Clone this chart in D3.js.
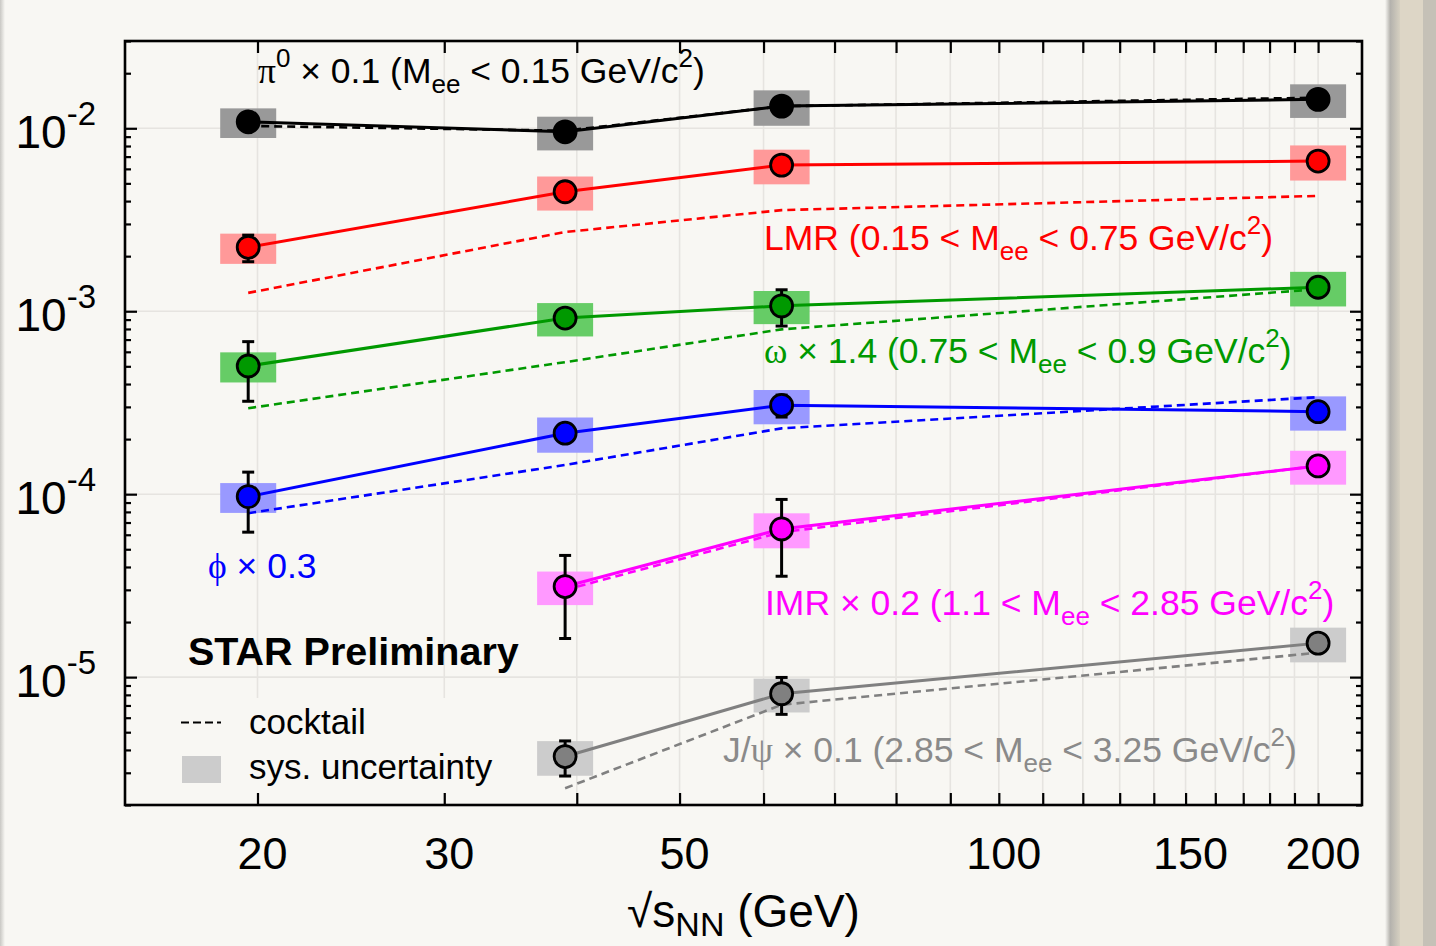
<!DOCTYPE html>
<html>
<head>
<meta charset="utf-8">
<script src="https://cdn.jsdelivr.net/npm/d3@7/dist/d3.min.js"></script>
<style>
  html, body { margin: 0; padding: 0; background: #f8f7f3; }
  svg { display: block; }
</style>
</head>
<body>
<svg id="chart" width="1436" height="946"></svg>
<script>
// ---- Data: dielectron yields vs collision energy ----
const energiesAll = [19.6, 39, 62.4, 200];
const energiesHigh = [39, 62.4, 200];

// pi0 x 0.1 (Mee < 0.15 GeV/c2)
const pi0Yield    = [0.01085, 0.00957, 0.01322, 0.01439];
const pi0Stat     = [0.0003, 0.0003, 0.0003, 0.0003];
const pi0Sys      = [0.0020, 0.0020, 0.0029, 0.0030];
const pi0Cocktail = [0.0103, 0.0097, 0.0132, 0.0147];

// LMR (0.15 < Mee < 0.75 GeV/c2)
const lmrYield    = [0.002235, 0.0045, 0.00629, 0.00662];
const lmrStat     = [0.00037, 0.0002, 0.0002, 0.0002];
const lmrSys      = [0.00042, 0.00095, 0.00135, 0.00144];
const lmrCocktail = [0.00126, 0.00271, 0.00357, 0.00427];

// omega x 1.4 (0.75 < Mee < 0.9 GeV/c2)
const omegaYield    = [0.000502, 0.000918, 0.00107, 0.001352];
const omegaStat     = [0.00018, 0.00008, 0.00024, 0.00005];
const omegaSys      = [0.000094, 0.00019, 0.00022, 0.00029];
const omegaCocktail = [0.000295, 0.000527, 0.000796, 0.00132];

// phi x 0.3
const phiYield    = [9.7e-5, 2.155e-4, 3.06e-4, 2.825e-4];
const phiStat     = [3.5e-5, 1.5e-5, 4.2e-5, 1.5e-5];
const phiSys      = [1.8e-5, 4.7e-5, 6.5e-5, 6.0e-5];
const phiCocktail = [7.87e-5, 1.445e-4, 2.29e-4, 3.39e-4];

// IMR x 0.2 (1.1 < Mee < 2.85 GeV/c2)
const imrYield    = [3.126e-5, 6.46e-5, 1.427e-4];
const imrStat     = [1.5e-5, 2.9e-5, 5e-6];
const imrSys      = [6.5e-6, 1.4e-5, 3.0e-5];
const imrCocktail = [3.0e-5, 6.2e-5, 1.43e-4];

// J/psi x 0.1 (2.85 < Mee < 3.25 GeV/c2)
const jpsiYield    = [3.68e-6, 8.11e-6, 1.534e-5];
const jpsiStat     = [8e-7, 1.85e-6, 5e-7];
const jpsiSys      = [7.9e-7, 1.7e-6, 3.3e-6];
const jpsiCocktail = [2.47e-6, 7.06e-6, 1.36e-5];

// Axis ticks
const xDomain = [15, 220];
const yDomain = [2e-6, 0.03];
const xTickValues = d3.range(20, 201, 10);
const xTickLabels = [20, 30, 50, 100, 150, 200];
const yDecades = [1e-2, 1e-3, 1e-4, 1e-5];
const yDecadeExponents = ["-2", "-3", "-4", "-5"];

// ---- Layout ----
const W = 1436, H = 946;
const frame = { left: 125, top: 41, right: 1362, bottom: 805 };
const FONT = "'Liberation Sans', Arial, Helvetica, sans-serif";
const GREEK = "'Liberation Serif', 'DejaVu Serif', serif";

const svg = d3.select("#chart");

const x = d3.scaleLog().domain(xDomain).range([frame.left, frame.right]);
const y = d3.scaleLog().domain(yDomain).range([frame.bottom, frame.top]);

// Page background with side bars
svg.append("rect").attr("width", W).attr("height", H).attr("fill", "#f8f7f3");
const defs = svg.append("defs");
const gl = defs.append("linearGradient").attr("id", "leftShade").attr("x1", 0).attr("x2", 1);
gl.append("stop").attr("offset", 0).attr("stop-color", "#c9c8c4");
gl.append("stop").attr("offset", 1).attr("stop-color", "#f8f7f3");
svg.append("rect").attr("x", 0).attr("y", 0).attr("width", 5).attr("height", H).attr("fill", "url(#leftShade)");
const gr = defs.append("linearGradient").attr("id", "rightShade").attr("x1", 0).attr("x2", 1);
gr.append("stop").attr("offset", 0).attr("stop-color", "#f8f7f3");
gr.append("stop").attr("offset", 0.35).attr("stop-color", "#b4b2ad");
gr.append("stop").attr("offset", 1).attr("stop-color", "#d6d0c1");
svg.append("rect").attr("x", 1385).attr("y", 0).attr("width", 15).attr("height", H).attr("fill", "url(#rightShade)");
svg.append("rect").attr("x", 1400).attr("y", 0).attr("width", 23).attr("height", H).attr("fill", "#ddd6c6");
svg.append("rect").attr("x", 1423).attr("y", 0).attr("width", 13).attr("height", H).attr("fill", "#c5c1b7");

// Grid
const grid = svg.append("g").attr("stroke", "#e6e4e0").attr("stroke-width", 1.6);
grid.selectAll("line.vx").data(xTickValues).join("line")
  .attr("x1", d => x(d)).attr("x2", d => x(d))
  .attr("y1", frame.top).attr("y2", frame.bottom);
grid.selectAll("line.hy").data(yDecades).join("line")
  .attr("x1", frame.left).attr("x2", frame.right)
  .attr("y1", d => y(d)).attr("y2", d => y(d));

// Legend backdrop hides the grid behind it
svg.append("rect").attr("x", 150).attr("y", 698).attr("width", 380).attr("height", 95)
  .attr("fill", "#f8f7f3");

// ---- Series ----
const series = [
  { xs: energiesAll,  yv: pi0Yield,   st: pi0Stat,   sy: pi0Sys,   ck: pi0Cocktail,
    line: "#000000", marker: "#000000", box: "#999999" },
  { xs: energiesAll,  yv: lmrYield,   st: lmrStat,   sy: lmrSys,   ck: lmrCocktail,
    line: "#ff0000", marker: "#ff0000", box: "#ff9999" },
  { xs: energiesAll,  yv: omegaYield, st: omegaStat, sy: omegaSys, ck: omegaCocktail,
    line: "#009900", marker: "#009900", box: "#66cc66" },
  { xs: energiesAll,  yv: phiYield,   st: phiStat,   sy: phiSys,   ck: phiCocktail,
    line: "#0000ff", marker: "#0000ff", box: "#9999ff" },
  { xs: energiesHigh, yv: imrYield,   st: imrStat,   sy: imrSys,   ck: imrCocktail,
    line: "#ff00ff", marker: "#ff00ff", box: "#ff99ff" },
  { xs: energiesHigh, yv: jpsiYield,  st: jpsiStat,  sy: jpsiSys,  ck: jpsiCocktail,
    line: "#808080", marker: "#808080", box: "#cccccc" }
];

const boxHalf = 28;
const lineGen = d3.line().x(d => x(d[0])).y(d => y(d[1]));

// systematic boxes
const gBox = svg.append("g");
series.forEach(s => {
  gBox.selectAll(null).data(s.xs.map((e, i) => [e, s.yv[i], s.sy[i]])).join("rect")
    .attr("x", d => x(d[0]) - boxHalf)
    .attr("width", boxHalf * 2)
    .attr("y", d => y(d[1] + d[2]))
    .attr("height", d => y(d[1] - d[2]) - y(d[1] + d[2]))
    .attr("fill", s.box);
});

// cocktail curves
const gCk = svg.append("g").attr("fill", "none");
series.forEach(s => {
  gCk.append("path")
    .attr("d", lineGen(s.xs.map((e, i) => [e, s.ck[i]])))
    .attr("stroke", s.line).attr("stroke-width", 2.6)
    .attr("stroke-dasharray", "8,5");
});

// data lines
const gLn = svg.append("g").attr("fill", "none");
series.forEach(s => {
  gLn.append("path")
    .attr("d", lineGen(s.xs.map((e, i) => [e, s.yv[i]])))
    .attr("stroke", s.line).attr("stroke-width", 3);
});

// statistical error bars
const gErr = svg.append("g").attr("stroke", "#000").attr("stroke-width", 3);
series.forEach(s => {
  s.xs.forEach((e, i) => {
    const cx = x(e), yt = y(s.yv[i] + s.st[i]), yb = y(s.yv[i] - s.st[i]);
    gErr.append("line").attr("x1", cx).attr("x2", cx).attr("y1", yt).attr("y2", yb);
    gErr.append("line").attr("x1", cx - 6).attr("x2", cx + 6).attr("y1", yt).attr("y2", yt);
    gErr.append("line").attr("x1", cx - 6).attr("x2", cx + 6).attr("y1", yb).attr("y2", yb);
  });
});

// markers
const gMk = svg.append("g");
series.forEach(s => {
  gMk.selectAll(null).data(s.xs.map((e, i) => [e, s.yv[i]])).join("circle")
    .attr("cx", d => x(d[0])).attr("cy", d => y(d[1]))
    .attr("r", 11).attr("fill", s.marker)
    .attr("stroke", "#000").attr("stroke-width", 2.8);
});

// ---- Axes (inward ticks on all four sides) ----
const yMinor = [];
for (let k = -6; k <= -2; k++) {
  for (let m = 2; m <= 9; m++) {
    const v = m * Math.pow(10, k);
    if (v >= yDomain[0] * 0.999 && v <= yDomain[1] * 1.001) yMinor.push(v);
  }
}
function styleAxis(g) {
  g.select(".domain").remove();
  g.selectAll(".tick line").attr("stroke", "#000").attr("stroke-width", 2.2);
  g.selectAll(".tick text").remove();
}
svg.append("g").attr("transform", `translate(0,${frame.bottom})`)
  .call(d3.axisTop(x).tickValues(xTickValues).tickSize(12).tickFormat("")).call(styleAxis);
svg.append("g").attr("transform", `translate(0,${frame.top})`)
  .call(d3.axisBottom(x).tickValues(xTickValues).tickSize(12).tickFormat("")).call(styleAxis);
svg.append("g").attr("transform", `translate(${frame.left},0)`)
  .call(d3.axisRight(y).tickValues(yDecades).tickSize(12).tickFormat("")).call(styleAxis);
svg.append("g").attr("transform", `translate(${frame.left},0)`)
  .call(d3.axisRight(y).tickValues(yMinor).tickSize(6).tickFormat("")).call(styleAxis);
svg.append("g").attr("transform", `translate(${frame.right},0)`)
  .call(d3.axisLeft(y).tickValues(yDecades).tickSize(12).tickFormat("")).call(styleAxis);
svg.append("g").attr("transform", `translate(${frame.right},0)`)
  .call(d3.axisLeft(y).tickValues(yMinor).tickSize(6).tickFormat("")).call(styleAxis);

// frame
svg.append("rect")
  .attr("x", frame.left).attr("y", frame.top)
  .attr("width", frame.right - frame.left).attr("height", frame.bottom - frame.top)
  .attr("fill", "none").attr("stroke", "#000").attr("stroke-width", 2.6);

// x tick labels
svg.append("g").selectAll("text").data(xTickLabels).join("text")
  .attr("x", d => x(d) + 5).attr("y", 869)
  .attr("text-anchor", "middle")
  .attr("font-family", FONT).attr("font-size", 45).attr("fill", "#000")
  .text(d => d);

// y tick labels: 10^n
const yl = svg.append("g");
yDecades.forEach((v, i) => {
  const t = yl.append("text")
    .attr("x", 96).attr("y", y(v) + 20)
    .attr("text-anchor", "end")
    .attr("font-family", FONT).attr("font-size", 46).attr("fill", "#000");
  t.append("tspan").text("10");
  t.append("tspan").attr("dy", -23).attr("font-size", 33).text(yDecadeExponents[i]);
});

// ---- Rich text helper for sub/superscripts ----
function richText(px, py, parts, color, size, subSize) {
  const t = svg.append("text")
    .attr("x", px).attr("y", py)
    .attr("font-family", FONT).attr("font-size", size).attr("fill", color);
  let offset = 0;
  parts.forEach(([str, kind]) => {
    const target = kind === "sub" ? 10 : kind === "sup" ? -16 : 0;
    const ts = t.append("tspan").attr("dy", target - offset).text(str);
    offset = target;
    if (kind === "sub" || kind === "sup") ts.attr("font-size", subSize);
    if (kind === "greek") ts.attr("font-family", GREEK);
  });
  return t;
}

const ANN = 35.5, ANN_SUB = 26;
richText(258, 83, [["π", "greek"], ["0", "sup"], [" × 0.1 (M"], ["ee", "sub"],
  [" < 0.15 GeV/c"], ["2", "sup"], [")"]], "#000000", ANN, ANN_SUB);
richText(764, 250, [["LMR (0.15 < M"], ["ee", "sub"], [" < 0.75 GeV/c"], ["2", "sup"], [")"]],
  "#ff0000", ANN, ANN_SUB);
richText(764, 363, [["ω", "greek"], [" × 1.4 (0.75 < M"], ["ee", "sub"], [" < 0.9 GeV/c"],
  ["2", "sup"], [")"]], "#009900", ANN, ANN_SUB);
richText(208, 578, [["ϕ", "greek"], [" × 0.3"]], "#0000ff", ANN, ANN_SUB);
richText(765, 615, [["IMR × 0.2 (1.1 < M"], ["ee", "sub"], [" < 2.85 GeV/c"], ["2", "sup"], [")"]],
  "#ff00ff", ANN, ANN_SUB);
richText(723, 762, [["J/"], ["ψ", "greek"], [" × 0.1 (2.85 < M"], ["ee", "sub"], [" < 3.25 GeV/c"],
  ["2", "sup"], [")"]], "#8a8a8a", ANN, ANN_SUB);

// STAR Preliminary
svg.append("text").attr("x", 188).attr("y", 665)
  .attr("font-family", FONT).attr("font-weight", "bold").attr("font-size", 39.5)
  .attr("fill", "#000").text("STAR Preliminary");

// legend
svg.append("line").attr("x1", 181).attr("x2", 221).attr("y1", 722.5).attr("y2", 722.5)
  .attr("stroke", "#000").attr("stroke-width", 2.2).attr("stroke-dasharray", "8,4");
svg.append("rect").attr("x", 182).attr("y", 756).attr("width", 39).attr("height", 27)
  .attr("fill", "#cccccc");
svg.append("text").attr("x", 249).attr("y", 734)
  .attr("font-family", FONT).attr("font-size", 35).attr("fill", "#000").text("cocktail");
svg.append("text").attr("x", 249).attr("y", 779)
  .attr("font-family", FONT).attr("font-size", 35).attr("fill", "#000").text("sys. uncertainty");

// x-axis title: sqrt(s_NN) (GeV)
const xt = svg.append("text")
  .attr("x", (frame.left + frame.right) / 2).attr("y", 927)
  .attr("text-anchor", "middle")
  .attr("font-family", FONT).attr("font-size", 46).attr("fill", "#000");
xt.append("tspan").text("√s");
xt.append("tspan").attr("dy", 9).attr("font-size", 34).text("NN");
xt.append("tspan").attr("dy", -9).text(" (GeV)");
</script>
</body>
</html>
